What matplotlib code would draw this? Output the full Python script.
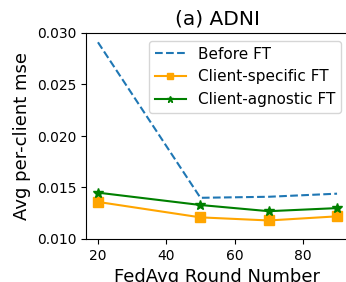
import matplotlib
matplotlib.use("Agg")
import matplotlib.pyplot as plt

rounds = [20, 50, 70, 90]
before_ft = [0.0291, 0.0140, 0.0141, 0.0144]
client_specific = [0.0136, 0.0121, 0.0118, 0.0122]
client_agnostic = [0.0145, 0.0133, 0.0127, 0.0130]

fig = plt.figure(figsize=(3.46, 2.82), dpi=100)
ax = fig.add_axes([86/346, 1 - 239/282, (349 - 86)/346, (239 - 33)/282])

ax.plot(rounds, before_ft, linestyle='--', color='#1f77b4', lw=1.5, label='Before FT')
ax.plot(rounds, client_specific, color='orange', marker='s', markersize=7, lw=1.5, label='Client-specific FT')
ax.plot(rounds, client_agnostic, color='green', marker='*', markersize=7, lw=1.5, label='Client-agnostic FT')

ax.set_ylim(0.010, 0.030)
ax.set_yticks([0.010, 0.015, 0.020, 0.025, 0.030])
ax.set_yticklabels(['0.010', '0.015', '0.020', '0.025', '0.030'])
ax.set_xticks([20, 40, 60, 80])
ax.tick_params(labelsize=10)
ax.set_xlabel('FedAvg Round Number', fontsize=13)
ax.set_ylabel('Avg per-client mse', fontsize=13)
ax.set_title('(a) ADNI', fontsize=14.5)
ax.legend(loc='upper right', fontsize=11, markerscale=0.7)

fig.savefig('out.png', dpi=100)
